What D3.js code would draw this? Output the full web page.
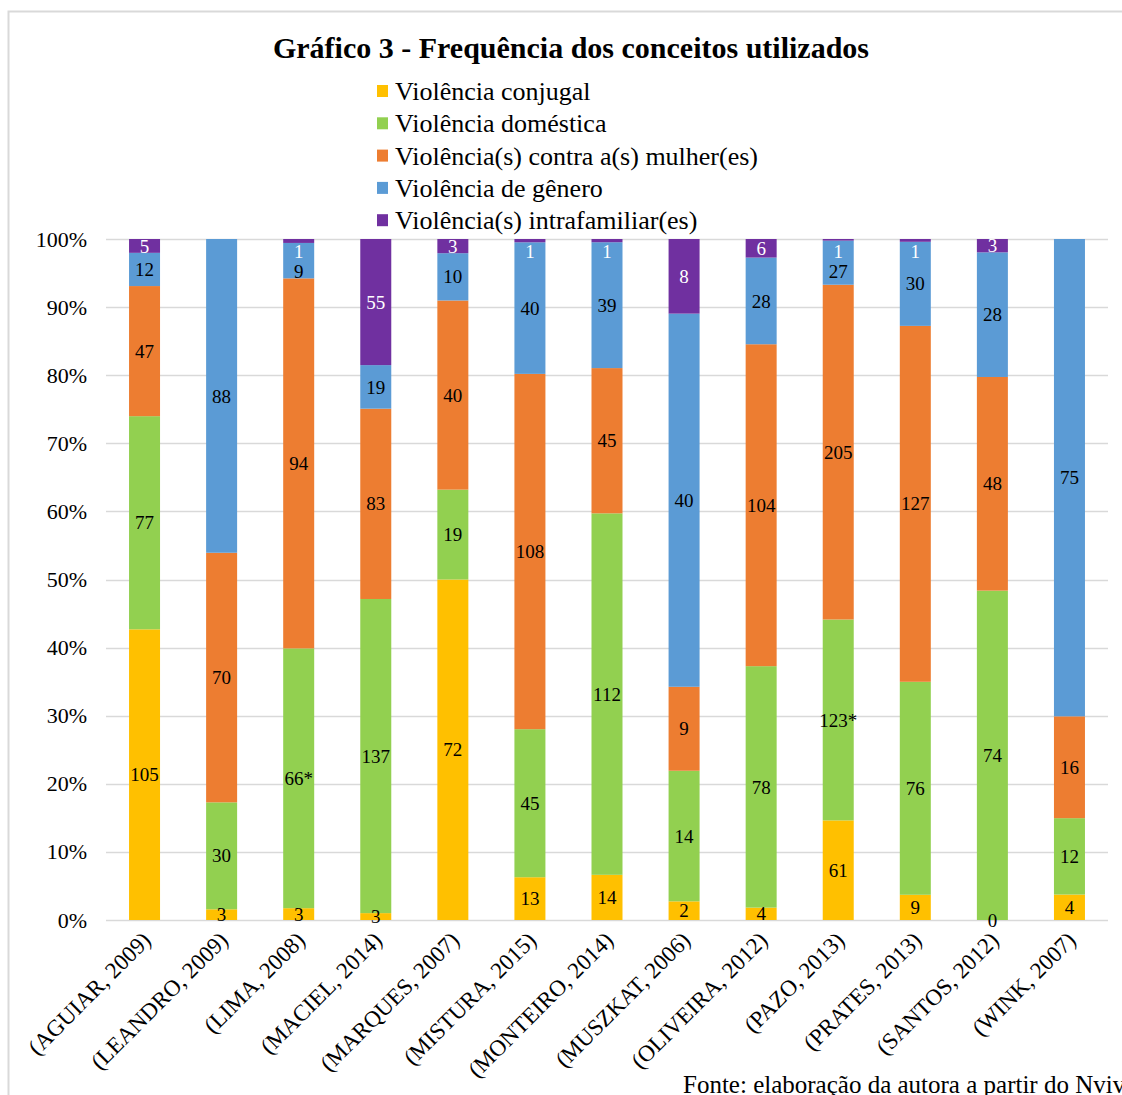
<!DOCTYPE html>
<html>
<head>
<meta charset="utf-8">
<script src="https://cdn.jsdelivr.net/npm/d3@7"></script>
<style>
  html, body { margin: 0; padding: 0; background: #fff; }
  svg { display: block; }
  text { font-family: "Liberation Serif", "Times New Roman", serif; }
</style>
</head>
<body>
<svg id="chart" width="1122" height="1095"></svg>
<script>
const categories = ["(AGUIAR, 2009)", "(LEANDRO, 2009)", "(LIMA, 2008)", "(MACIEL, 2014)", "(MARQUES, 2007)", "(MISTURA, 2015)", "(MONTEIRO, 2014)", "(MUSZKAT, 2006)", "(OLIVEIRA, 2012)", "(PAZO, 2013)", "(PRATES, 2013)", "(SANTOS, 2012)", "(WINK, 2007)"];
const seriesNames = ["Violência conjugal", "Violência doméstica", "Violência(s) contra a(s) mulher(es)", "Violência de gênero", "Violência(s) intrafamiliar(es)"];
const conjugal   = [105, 3, 3, 3, 72, 13, 14, 2, 4, 61, 9, 0, 4];
const domestica  = [77, 30, 66, 137, 19, 45, 112, 14, 78, 123, 76, 74, 12];
const contra     = [47, 70, 94, 83, 40, 108, 45, 9, 104, 205, 127, 48, 16];
const genero     = [12, 88, 9, 19, 10, 40, 39, 40, 28, 27, 30, 28, 75];
const intra      = [5, null, 1, 55, 3, 1, 1, 8, 6, 1, 1, 3, null];
const starred    = ["(LIMA, 2008)", "(PAZO, 2013)"]; // labels shown with "*" in the doméstica series
const yTicks     = [0, 0.1, 0.2, 0.3, 0.4, 0.5, 0.6, 0.7, 0.8, 0.9, 1.0];
const colors     = ["#FFC000", "#92D050", "#ED7D31", "#5B9BD5", "#7030A0"];
const labelColors = ["#000", "#000", "#000", "#000", "#fff"];

const seriesValues = [conjugal, domestica, contra, genero, intra];
const keys = ["conjugal", "domestica", "contra", "genero", "intra"];
const rows = categories.map((c, i) => {
  const r = { cat: c };
  keys.forEach((k, j) => r[k] = seriesValues[j][i]);
  return r;
});

const svg = d3.select("#chart");
const W = 1122, H = 1095;
const plot = { left: 106, right: 1108, top: 239, bottom: 920 };

// outer frame
svg.append("path")
  .attr("d", `M8.5,${H} L8.5,11.5 L${W},11.5`)
  .attr("fill", "none").attr("stroke", "#d9d9d9").attr("stroke-width", 2);

// title
svg.append("text")
  .attr("x", 571).attr("y", 58)
  .attr("text-anchor", "middle")
  .attr("font-size", 30).attr("font-weight", "bold")
  .text("Gráfico 3 - Frequência dos conceitos utilizados");

// legend
const legend = svg.append("g");
seriesNames.forEach((n, i) => {
  const y = 91 + i * 32.3;
  legend.append("rect").attr("x", 377).attr("y", y - 6).attr("width", 11).attr("height", 12).attr("fill", colors[i]);
  legend.append("text").attr("x", 395).attr("y", y).attr("dy", "0.35em")
    .attr("font-size", 26).text(n);
});

const x = d3.scaleBand().domain(categories).range([plot.left, plot.right]).paddingInner(0.6).paddingOuter(0.3);
const y = d3.scaleLinear().domain([0, 1]).range([plot.bottom, plot.top]);

// grid
svg.append("g").selectAll("line").data(yTicks).join("line")
  .attr("x1", plot.left).attr("x2", plot.right)
  .attr("y1", d => Math.round(y(d)) + 0.5).attr("y2", d => Math.round(y(d)) + 0.5)
  .attr("stroke", "#d9d9d9").attr("stroke-width", 1.5);

// y axis labels
const yAxis = d3.axisLeft(y).tickValues(yTicks).tickFormat(d3.format(".0%")).tickSize(0).tickPadding(0);
const ya = svg.append("g").attr("transform", `translate(${plot.left - 19},0)`).call(yAxis);
ya.select(".domain").remove();
ya.selectAll("text").attr("font-size", 22).attr("fill", "#000")
  .attr("font-family", "'Liberation Serif', 'Times New Roman', serif");

// stack
const stack = d3.stack().keys(keys).value((d, k) => d[k] || 0).offset(d3.stackOffsetExpand);
const stacked = stack(rows);

const barW = 31;
const g = svg.append("g");
stacked.forEach((layer, si) => {
  g.append("g").selectAll("rect").data(layer).join("rect")
    .attr("x", d => x(d.data.cat) + x.bandwidth() / 2 - barW / 2)
    .attr("width", barW)
    .attr("y", d => y(d[1]))
    .attr("height", d => Math.max(0, y(d[0]) - y(d[1])))
    .attr("fill", colors[si]);
});

// data label positions: centred, tiny top segments kept inside, then pushed apart top-down
const labelPos = rows.map(() => ({}));
rows.forEach((r, ci) => {
  let prev = null;
  for (let si = keys.length - 1; si >= 0; si--) {
    const d = stacked[si][ci];
    if (r[keys[si]] === null) continue;
    const y1 = y(d[1]), y0 = y(d[0]);
    let c = (y0 + y1) / 2;
    if (y0 - y1 < 6 && Math.abs(y1 - plot.top) < 0.5) c = plot.top + 12;
    if (prev !== null && c - prev < 20) c = prev + 20;
    labelPos[ci][keys[si]] = c;
    prev = c;
  }
});

stacked.forEach((layer, si) => {
  const key = keys[si];
  g.append("g").selectAll("text").data(layer.filter(d => d.data[key] !== null)).join("text")
    .attr("x", d => x(d.data.cat) + x.bandwidth() / 2)
    .attr("y", d => labelPos[categories.indexOf(d.data.cat)][key])
    .attr("dy", "0.35em")
    .attr("text-anchor", "middle")
    .attr("font-size", 19)
    .attr("fill", labelColors[si])
    .text(d => d.data[key] + (key === "domestica" && starred.includes(d.data.cat) ? "*" : ""));
});

// x axis labels
const xAxis = d3.axisBottom(x).tickSize(0).tickPadding(0);
const xa = svg.append("g").attr("transform", `translate(0,${plot.bottom})`).call(xAxis);
xa.select(".domain").remove();
xa.selectAll("text")
  .attr("font-size", 23).attr("fill", "#000")
  .attr("font-family", "'Liberation Serif', 'Times New Roman', serif")
  .attr("text-anchor", "end")
  .attr("dy", "0.35em")
  .attr("transform", "translate(2,16) rotate(-45)");

// source note
svg.append("text").attr("x", 683).attr("y", 1093).attr("font-size", 25)
  .text("Fonte: elaboração da autora a partir do Nvivo.");
</script>
</body>
</html>
